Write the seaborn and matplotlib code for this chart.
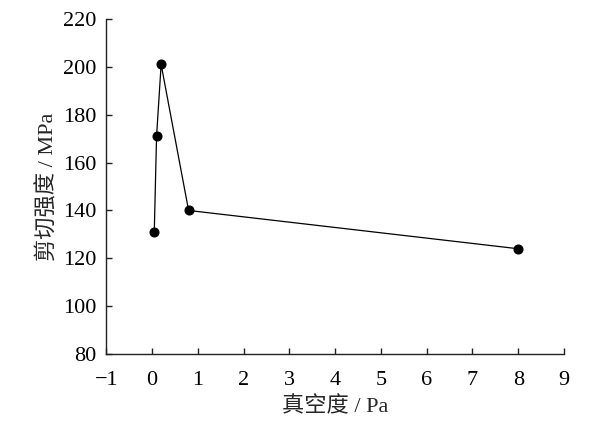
import matplotlib
matplotlib.use("Agg")
from matplotlib import pyplot as plt
import pandas as pd
import seaborn as sns

# vacuum degree (Pa) vs shear strength (MPa)
vacuum = [0.05, 0.1, 0.2, 0.8, 8.0]
strength = [131, 171, 201, 140, 124]
x_ticks = list(range(-1, 10))
y_ticks = list(range(80, 221, 20))

sns.set_theme(style="ticks")
plt.rcParams['font.family'] = ['Liberation Serif', 'Noto Sans CJK SC', 'DejaVu Sans']
plt.rcParams['axes.unicode_minus'] = True

df = pd.DataFrame({'vacuum': vacuum, 'strength': strength})

fig = plt.figure(figsize=(6.0, 4.22), dpi=100)
ax = fig.add_axes([0.177, 0.161, 0.763, 0.794])

sns.lineplot(data=df, x='vacuum', y='strength', ax=ax, sort=False,
             color='black', linewidth=0.9, marker='o', markersize=6.5,
             markeredgecolor='black', markerfacecolor='black')

ax.set_xlim(-1, 9)
ax.set_ylim(80, 220)
ax.set_xticks(x_ticks)
ax.set_yticks(y_ticks)
ax.set_xticklabels(['\u22121' if t < 0 else str(t) for t in x_ticks])

sns.despine(ax=ax)
for side in ['left', 'bottom']:
    ax.spines[side].set_linewidth(1.0)
    ax.spines[side].set_color('#222222')

ax.tick_params(direction='in', length=4.5, width=1.0, colors='#222222',
               labelsize=16, labelcolor='black')
ax.tick_params(axis='x', pad=12)
ax.tick_params(axis='y', pad=7)

ax.set_xlabel('真空度 / Pa', fontsize=16, labelpad=5,
              family=['Liberation Serif', 'Noto Sans CJK SC'])
ax.set_ylabel('剪切强度 / MPa', fontsize=16, labelpad=3,
              family=['Liberation Serif', 'Noto Sans CJK SC'])

fig.savefig('out.png', dpi=100)
